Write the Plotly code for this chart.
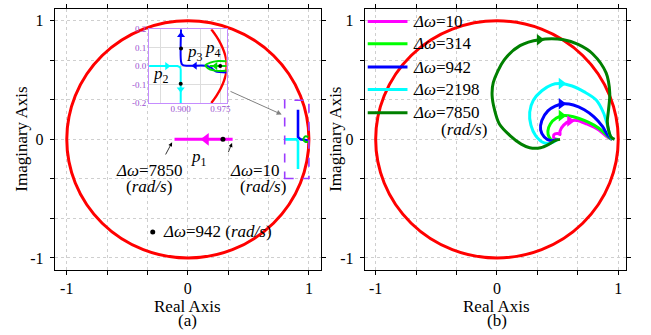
import plotly.graph_objects as go

W, H = 651, 335
SERIF = "Liberation Serif"

# ---------------- data ----------------
axis_tick_vals = [-1, -2/3, -1/3, 0, 1/3, 2/3, 1]
axis_tick_text = ["-1", "", "", "0", "", "", "1"]

# (a) main view
p1_x = [-0.11, 0.37]
p1_y = [0.0, 0.0]
blue_main_x = [0.91, 0.91, 0.93, 0.99]
blue_main_y = [0.25, 0.02, 0.0, -0.01]
cyan_main_x = [0.80, 0.90, 0.91, 0.91]
cyan_main_y = [0.0, 0.0, -0.02, -0.25]
green_main_x = [0.995, 0.97, 0.955, 0.97, 0.995]
green_main_y = [0.02, 0.025, 0.0, -0.02, -0.02]
dot942_x = [-0.29]
dot942_y = [-0.78]
p1_dot_x = [0.29]
p1_dot_y = [0.0]

# (a) inset
inset_x_ticks = [0.8625, 0.9, 0.9375, 0.975]
inset_x_text = ["", "0.900", "", "0.975"]
inset_y_ticks = [-0.2, -0.1, 0.0, 0.1, 0.2]
inset_y_text = ["-0.2", "-0.1", "0.0", "0.1", "0.2"]
p2_x = [0.84, 0.894, 0.899, 0.9, 0.9]
p2_y = [0.0, 0.0, -0.006, -0.02, -0.2]
p3_x = [0.9006, 0.9006, 0.903, 0.912, 0.948, 0.958, 0.966, 0.987]
p3_y = [0.2, 0.025, 0.008, 0.002, 0.002, -0.01, -0.028, -0.034]
p4_loop_x = [0.987, 0.971, 0.956, 0.947, 0.952, 0.962, 0.975, 0.987]
p4_loop_y = [0.026, 0.028, 0.019, 0.004, -0.012, -0.023, -0.027, -0.024]
p4_line_x = [0.987, 0.955]
p4_line_y = [0.0, 0.0]
inset_arc_x = [0.958, 0.968, 0.976, 0.982, 0.986, 0.987, 0.986, 0.982, 0.976, 0.968, 0.958]
inset_arc_y = [0.2, 0.16, 0.12, 0.08, 0.04, 0.0, -0.04, -0.08, -0.12, -0.16, -0.2]
inset_dots_x = [0.9006, 0.9, 0.975]
inset_dots_y = [0.095, -0.095, 0.0]

# (b) loci for each frequency deviation
dw_labels = ["10", "314", "942", "2198", "7850"]
dw_colors = ["#ff00ff", "#00ff00", "#0000ff", "#00ffff", "#008000"]
loc10_x = [0.95, 0.91, 0.84, 0.74, 0.66, 0.60, 0.55, 0.52, 0.52, 0.50, 0.47, 0.47, 0.50]
loc10_y = [0.0, 0.02, 0.08, 0.13, 0.16, 0.155, 0.12, 0.07, 0.04, 0.05, 0.04, 0.01, 0.0]
loc314_x = [0.95, 0.92, 0.87, 0.80, 0.72, 0.63, 0.55, 0.49, 0.44, 0.42, 0.43, 0.46, 0.50]
loc314_y = [0.0, 0.02, 0.07, 0.12, 0.16, 0.19, 0.20, 0.18, 0.13, 0.07, 0.02, -0.01, 0.0]
loc942_x = [0.95, 0.91, 0.87, 0.80, 0.72, 0.63, 0.55, 0.48, 0.42, 0.37, 0.36, 0.39, 0.44, 0.50]
loc942_y = [0.0, 0.04, 0.11, 0.19, 0.25, 0.29, 0.30, 0.28, 0.24, 0.16, 0.08, 0.02, -0.01, 0.0]
loc2198_x = [0.95, 0.93, 0.91, 0.88, 0.82, 0.72, 0.62, 0.52, 0.45, 0.37, 0.30, 0.27, 0.28, 0.32, 0.39, 0.45, 0.50]
loc2198_y = [0.0, 0.04, 0.12, 0.22, 0.33, 0.40, 0.45, 0.47, 0.46, 0.41, 0.33, 0.23, 0.12, 0.03, -0.03, -0.03, 0.0]
loc7850_x = [0.97, 0.94, 0.92, 0.91, 0.92, 0.93, 0.90, 0.79, 0.67, 0.55, 0.35, 0.19, 0.06, -0.03, -0.04,
             -0.02, 0.02, 0.11, 0.20, 0.27, 0.36, 0.43, 0.48, 0.52]
loc7850_y = [0.0, 0.02, 0.08, 0.15, 0.25, 0.39, 0.56, 0.72, 0.80, 0.84, 0.84, 0.79, 0.67, 0.48, 0.37,
             0.25, 0.13, 0.03, -0.04, -0.07, -0.07, -0.04, -0.01, 0.0]
loci_x = [loc10_x, loc314_x, loc942_x, loc2198_x, loc7850_x]
loci_y = [loc10_y, loc314_y, loc942_y, loc2198_y, loc7850_y]
arrow_b_x = [0.60, 0.53, 0.53, 0.53, 0.35]
arrow_b_y = [0.155, 0.20, 0.30, 0.47, 0.84]

# ---------------- figure ----------------
fig = go.Figure()

def line(x, y, color, xa="x", ya="y", width=2.6, smooth=False):
    ln = dict(color=color, width=width)
    if smooth:
        ln.update(shape="spline", smoothing=0.9)
    fig.add_trace(go.Scatter(x=x, y=y, mode="lines", xaxis=xa, yaxis=ya,
                             line=ln, showlegend=False, hoverinfo="skip"))

def marks(x, y, color, symbol, size, xa="x", ya="y"):
    fig.add_trace(go.Scatter(x=x, y=y, mode="markers", xaxis=xa, yaxis=ya,
                             marker=dict(color=color, symbol=symbol, size=size,
                                         line=dict(width=0)),
                             showlegend=False, hoverinfo="skip"))

# (a) main
line(p1_x, p1_y, "#ff00ff", width=3)
marks([0.15], [0.0], "#ff00ff", "triangle-left", 11)
marks(p1_dot_x, p1_dot_y, "black", "circle", 5)
line(blue_main_x, blue_main_y, "#0000ff")
line(cyan_main_x, cyan_main_y, "#00ffff")
line(green_main_x, green_main_y, "#00cc00", width=2, smooth=True)
marks(dot942_x, dot942_y, "black", "circle", 5)

# (a) inset
line(inset_arc_x, inset_arc_y, "#ff0000", "x3", "y3", width=2.4, smooth=True)
line(p2_x, p2_y, "#00ffff", "x3", "y3", width=2)
line(p3_x, p3_y, "#0000ff", "x3", "y3", width=2, smooth=True)
line(p4_loop_x, p4_loop_y, "#00dd00", "x3", "y3", width=2, smooth=True)
line(p4_line_x, p4_line_y, "#00dd00", "x3", "y3", width=2)
marks([0.874], [0.0], "#00ffff", "triangle-right", 7, "x3", "y3")
marks([0.9], [-0.125], "#00ffff", "triangle-down", 7, "x3", "y3")
marks([0.9006], [0.168], "#0000ff", "triangle-up", 7, "x3", "y3")
marks([0.927], [0.002], "#0000ff", "triangle-left", 7, "x3", "y3")
marks([0.966], [0.0], "#00dd00", "triangle-left", 7, "x3", "y3")
marks(inset_dots_x, inset_dots_y, "black", "circle", 4, "x3", "y3")

# (b)
for lx, ly, c in zip(loci_x, loci_y, dw_colors):
    line(lx, ly, c, "x2", "y2", width=3, smooth=True)
for ax_, ay_, c in zip(arrow_b_x, arrow_b_y, dw_colors):
    marks([ax_], [ay_], c, "triangle-right", 10, "x2", "y2")

# ---------------- axes ----------------
def main_axis(domain, rng, standoff):
    return dict(domain=domain, range=rng, showline=True, linecolor="black", linewidth=1,
                mirror="ticks", ticks="outside", ticklen=4, tickcolor="black",
                showgrid=True, gridcolor="#cfcfcf", griddash="dot", gridwidth=1,
                zeroline=False, tickmode="array", tickvals=axis_tick_vals,
                ticktext=axis_tick_text, ticklabelstandoff=standoff,
                tickfont=dict(family=SERIF, size=16, color="black"), fixedrange=True)

ydom = [1 - 273 / H, 1 - 4 / H]
inset_font = dict(family=SERIF, size=9, color="#9a4fd0")
fig.update_layout(
    width=W, height=H, autosize=False,
    margin=dict(l=0, r=0, t=0, b=0),
    paper_bgcolor="white", plot_bgcolor="white",
    xaxis=dict(main_axis([55 / W, 323 / W], [-1.1, 1.1], 0), anchor="y"),
    yaxis=dict(main_axis(ydom, [-1.1, 1.1], 3), anchor="x"),
    xaxis2=dict(main_axis([367 / W, 630 / W], [-1.09, 1.065], 0), anchor="y2"),
    yaxis2=dict(main_axis(ydom, [-1.1, 1.1], 3), anchor="x2"),
    xaxis3=dict(domain=[150 / W, 228 / W], range=[0.84, 0.987], anchor="y3",
                showline=True, linecolor="#c58cff", linewidth=1, mirror=True,
                ticks="", tickmode="array", tickvals=inset_x_ticks, ticktext=inset_x_text,
                showgrid=True, gridcolor="#dddddd", gridwidth=1, zeroline=False,
                tickfont=inset_font, ticklabelstandoff=-3),
    yaxis3=dict(domain=[1 - 101 / H, 1 - 25 / H], range=[-0.2, 0.2], anchor="x3",
                showline=True, linecolor="#c58cff", linewidth=1, mirror=True,
                ticks="", tickmode="array", tickvals=inset_y_ticks, ticktext=inset_y_text,
                showgrid=True, gridcolor="#dddddd", gridwidth=1, zeroline=False,
                tickfont=inset_font, ticklabelstandoff=0),
)

# ---------------- shapes ----------------
shapes = [
    dict(type="circle", xref="x", yref="y", x0=-1, x1=1, y0=-1, y1=1,
         line=dict(color="#ff0000", width=3), layer="between"),
    dict(type="circle", xref="x2", yref="y2", x0=-1, x1=1, y0=-1, y1=1,
         line=dict(color="#ff0000", width=3), layer="between"),
    dict(type="rect", xref="x", yref="y", x0=0.80, x1=1.0, y0=-0.33, y1=0.33,
         line=dict(color="#9b3cff", width=1.6, dash="dash"), layer="above"),
]
# legend swatches for (b)
leg_y = [17, 40, 64, 87, 111]
for yy, c in zip(leg_y, dw_colors):
    shapes.append(dict(type="line", xref="paper", yref="paper",
                       x0=370 / W, x1=410 / W, y0=1 - yy / H, y1=1 - yy / H,
                       line=dict(color=c, width=3)))
fig.update_layout(shapes=shapes)

# ---------------- annotations ----------------
ann = []

def paper_text(x, y, s, size=17, angle=0, xanchor="center"):
    ann.append(dict(x=x / W, y=1 - y / H, xref="paper", yref="paper", text=s,
                    showarrow=False, textangle=angle, xanchor=xanchor, yanchor="middle",
                    font=dict(family=SERIF, size=size, color="black")))

paper_text(22, 138, "Imaginary Axis", angle=-90)
paper_text(338, 138, "Imaginary Axis", angle=-90)
paper_text(189, 311, "Real Axis")
paper_text(189, 325, "(a)")
paper_text(500, 311, "Real Axis")
paper_text(500, 325, "(b)")
for yy, lab in zip(leg_y, dw_labels):
    paper_text(414, yy, "<i>Δω</i>=" + lab, xanchor="left")
paper_text(442, 128, "(<i>rad/s</i>)", xanchor="left")

def data_text(x, y, s, xa="x", ya="y", size=17, xanchor="center"):
    ann.append(dict(x=x, y=y, xref=xa, yref=ya, text=s, showarrow=False,
                    xanchor=xanchor, yanchor="middle",
                    font=dict(family=SERIF, size=size, color="black")))

data_text(-0.32, -0.26, "<i>Δω</i>=7850")
data_text(-0.32, -0.40, "(<i>rad/s</i>)")
data_text(0.555, -0.26, "<i>Δω</i>=10")
data_text(0.62, -0.40, "(<i>rad/s</i>)")
data_text(-0.22, -0.78, "<i>Δω</i>=942 (<i>rad/s</i>)", xanchor="left")
data_text(0.09, -0.16, "<i>p</i><sub>1</sub>")
data_text(0.862, -0.05, "<i>p</i><sub>2</sub>", "x3", "y3", size=17)
data_text(0.927, 0.07, "<i>p</i><sub>3</sub>", "x3", "y3", size=17)
data_text(0.962, 0.095, "<i>p</i><sub>4</sub>", "x3", "y3", size=17)

def pointer(x, y, axx, axy, color="black", width=0.8, head=2):
    ann.append(dict(x=x, y=y, ax=axx, ay=axy, xref="x", yref="y", axref="x", ayref="y",
                    text="", showarrow=True, arrowhead=head, arrowsize=1,
                    arrowwidth=width, arrowcolor=color))

pointer(-0.13, -0.025, -0.19, -0.14)
pointer(0.365, -0.03, 0.33, -0.12)
pointer(0.775, 0.21, 0.34, 0.41, color="#808080", width=1)

fig.update_layout(annotations=ann)

fig.write_html("out.html")
